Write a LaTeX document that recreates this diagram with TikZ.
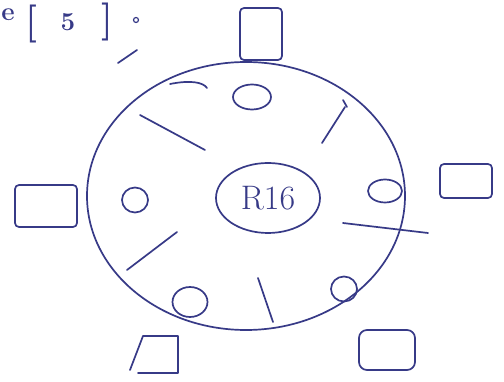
\documentclass[tikz,border=0pt]{standalone}
\usetikzlibrary{shapes.geometric}
\definecolor{ink}{RGB}{55,58,135}
\begin{document}
\begin{tikzpicture}[x=1pt,y=-1pt,
  pen/.style={draw=ink, line width=1.7pt, line cap=round, line join=round},
  ring/.style={pen, ellipse, inner sep=0pt},
  box/.style={pen, rectangle, rounded corners=4pt, inner sep=0pt},
  hand/.style={text=ink, inner sep=0pt}]
\useasboundingbox (0,0) rectangle (504,382);
\fill[white] (0,0) rectangle (504,382);
% heading fragment
\node[hand, font=\fontsize{26}{26}\selectfont\bfseries] (he) at (8,15) {e};
\node[hand, font=\fontsize{38}{38}\selectfont\bfseries] (hl) at (31,24) {[};
\node[hand, font=\fontsize{26}{26}\selectfont\bfseries] (h5) at (68,22) {5};
\node[hand, font=\fontsize{38}{38}\selectfont\bfseries] (hr) at (107,22) {]};
\node[pen, circle, minimum size=5pt, inner sep=0pt, line width=1.2pt] (hd) at (136,20) {};
\draw[pen] (118,63) -- (137,50);
% big circle
\node[ring, minimum width=318pt, minimum height=268pt] (big) at (246,196) {};
% centre
\node[ring, minimum width=104pt, minimum height=70pt, text=ink,
      font=\fontsize{34}{34}\selectfont] (core) at (268,198) {R16};
% small circles
\node[ring, minimum width=38pt, minimum height=25pt] (c1) at (252,97) {};
\node[ring, minimum width=26pt, minimum height=25pt] (c2) at (135,200) {};
\node[ring, minimum width=34pt, minimum height=23pt] (c3) at (385,191) {};
\node[ring, minimum width=35pt, minimum height=30pt] (c4) at (190,302) {};
\node[ring, minimum width=26pt, minimum height=25pt] (c5) at (344,289) {};
% strokes
\draw[pen] (170,84) .. controls (190,80) and (203,82) .. (207,88);
\draw[pen] (140,115) -- (205,150);
\draw[pen] (345,107) -- (322,143);
\draw[pen] (343,100) -- (347,107);
\draw[pen] (343,223) -- (428,233);
\draw[pen] (177,232) -- (127,270);
\draw[pen] (258,278) -- (273,322);
% boxes
\node[box, minimum width=42pt, minimum height=52pt] (b1) at (261,34) {};
\node[box, minimum width=62pt, minimum height=42pt] (b2) at (46,206) {};
\node[box, minimum width=52pt, minimum height=34pt] (b3) at (466,181) {};
\node[box, minimum width=56pt, minimum height=40pt, rounded corners=8pt] (b5) at (387,350) {};
\draw[pen] (130,370) -- (143,336) -- (178,336) -- (178,373) -- (138,373);
\end{tikzpicture}
\end{document}
